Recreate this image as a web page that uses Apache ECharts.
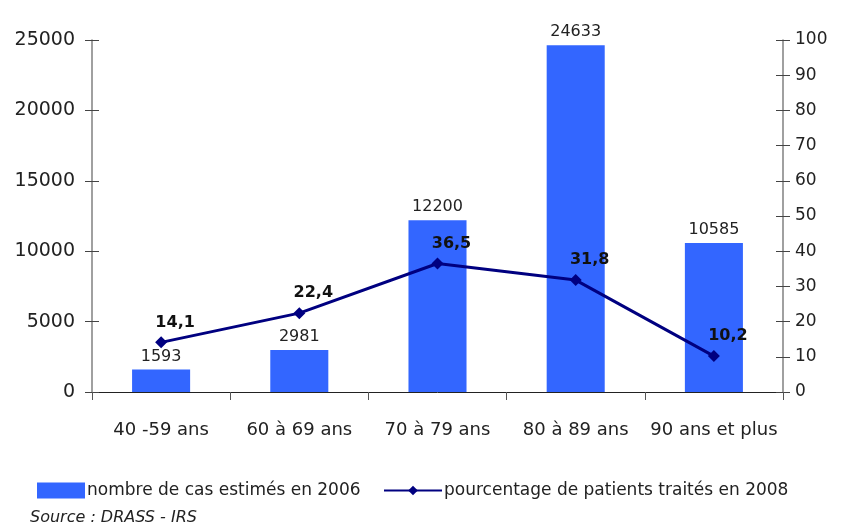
<!DOCTYPE html>
<html>
<head>
<meta charset="utf-8">
<script src="https://cdn.jsdelivr.net/npm/echarts@6/dist/echarts.min.js"></script>
<style>
  html, body { margin: 0; padding: 0; background: #fff; }
  #chart { width: 845px; height: 528px; }
</style>
</head>
<body>
<div id="chart"></div>
<script>
var categories = ['40 -59 ans', '60 à 69 ans', '70 à 79 ans', '80 à 89 ans', '90 ans et plus'];
var casEstimes = [1593, 2981, 12200, 24633, 10585];
var pourcentTraites = [14.1, 22.4, 36.5, 31.8, 10.2];

var font = '"DejaVu Sans", sans-serif';
var myChart = echarts.init(document.getElementById('chart'));

// axe "fantome" pour les graduations qui traversent l'axe
function innerTicks(pos, max, step) {
  return {
    type: 'value', position: pos, min: 0, max: max, interval: step,
    axisLine: { show: false },
    axisTick: { show: true, inside: true, length: 7, lineStyle: { color: '#444' } },
    axisLabel: { show: false },
    splitLine: { show: false }
  };
}

var option = {
  animation: false,
  textStyle: { fontFamily: font },
  grid: { left: 92, right: 62, top: 40, bottom: 136 },
  legend: [
    {
      left: 32, top: 477,
      itemWidth: 48, itemHeight: 16, itemGap: 0,
      textStyle: { fontSize: 17, color: '#222', fontFamily: font, padding: [0, 0, 0, -3] },
      data: [{ name: 'nombre de cas estimés en 2006', icon: 'rect' }]
    },
    {
      left: 378, top: 477,
      itemWidth: 58, itemHeight: 12,
      textStyle: { fontSize: 17, color: '#222', fontFamily: font, padding: [0, 0, 0, -3] },
      data: ['pourcentage de patients traités en 2008']
    }
  ],
  graphic: [{
    type: 'text', left: 30, top: 510,
    style: { text: 'Source : DRASS - IRS', font: 'italic 16px ' + font, fill: '#222' }
  }],
  xAxis: {
    type: 'category',
    data: categories,
    axisLine: { lineStyle: { color: '#222', width: 1 } },
    axisTick: { show: true, length: 8, lineStyle: { color: '#555' } },
    axisLabel: { fontSize: 18, color: '#222', margin: 29, interval: 0, fontFamily: font }
  },
  yAxis: [
    {
      type: 'value', min: 0, max: 25000, interval: 5000,
      axisLine: { show: true, lineStyle: { color: '#808080', width: 1.5 } },
      axisTick: { show: true, length: 7, lineStyle: { color: '#444' } },
      axisLabel: { fontSize: 19, color: '#222', margin: 17, fontFamily: font,
        formatter: function (v) { return String(v); } },
      splitLine: { show: false }
    },
    {
      type: 'value', min: 0, max: 100, interval: 10,
      axisLine: { show: true, lineStyle: { color: '#808080', width: 1.5 } },
      axisTick: { show: true, length: 7, lineStyle: { color: '#444' } },
      axisLabel: { fontSize: 17, color: '#222', margin: 12, fontFamily: font },
      splitLine: { show: false }
    },
    innerTicks('left', 25000, 5000),
    innerTicks('right', 100, 10)
  ],
  series: [
    {
      name: 'nombre de cas estimés en 2006',
      type: 'bar',
      data: casEstimes,
      barWidth: '42%',
      itemStyle: { color: '#3366FF' },
      label: { show: true, position: 'top', fontSize: 16, color: '#222', distance: 5, fontFamily: font }
    },
    {
      name: 'pourcentage de patients traités en 2008',
      type: 'line',
      yAxisIndex: 1,
      data: pourcentTraites,
      symbol: 'diamond',
      symbolSize: 12,
      lineStyle: { color: '#000080', width: 3 },
      itemStyle: { color: '#000080' },
      label: {
        show: true, position: 'top', distance: 6, offset: [14, 0],
        fontSize: 16, fontWeight: 'bold', color: '#111', fontFamily: font,
        formatter: function (p) { return String(p.value).replace('.', ','); }
      }
    }
  ]
};
myChart.setOption(option);
</script>
</body>
</html>
